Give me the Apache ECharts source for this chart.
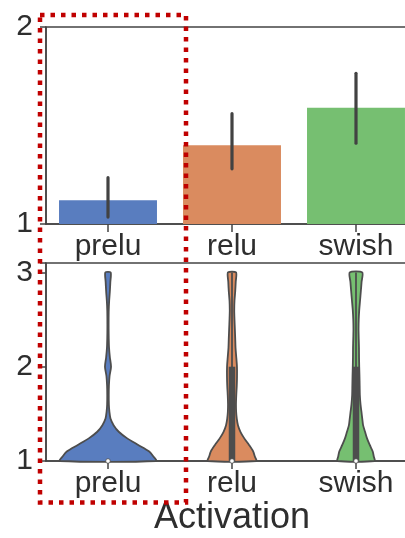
<!DOCTYPE html>
<html>
<head>
<meta charset="utf-8">
<script src="https://cdn.jsdelivr.net/npm/echarts@6/dist/echarts.min.js"></script>
<style>
html,body{margin:0;padding:0;background:#fff;overflow:hidden;width:405px;height:538px;}
#chart{width:425px;height:538px;}
</style>
</head>
<body>
<div id="chart"></div>
<script>
// ---- data ----
var categories = ['prelu', 'relu', 'swish'];
var barMeans = [1.12, 1.40, 1.59];
var errLow = [1.035, 1.28, 1.41];
var errHigh = [1.235, 1.56, 1.765];
var topTicks = [1, 2];
var bottomTicks = [1, 2, 3];
// violin profiles: y levels and full width (fraction of category band)
var violinLevels = [1.0, 1.05, 1.1, 1.17, 1.24, 1.31, 1.38, 1.45, 1.52, 1.6, 1.7, 1.8, 1.9, 2.0, 2.1, 2.2, 2.3, 2.4, 2.5, 2.6, 2.7, 2.8, 2.9, 3.0];
var preluWidth = [0.778, 0.730, 0.665, 0.488, 0.310, 0.173, 0.090, 0.040, 0.023, 0.014, 0.012, 0.015, 0.025, 0.049, 0.030, 0.017, 0.012, 0.010, 0.010, 0.012, 0.019, 0.030, 0.038, 0.043];
var reluWidth = [0.391, 0.367, 0.343, 0.275, 0.198, 0.136, 0.096, 0.077, 0.067, 0.064, 0.069, 0.077, 0.081, 0.080, 0.069, 0.057, 0.052, 0.046, 0.040, 0.036, 0.040, 0.052, 0.060, 0.065];
var swishWidth = [0.298, 0.286, 0.270, 0.222, 0.178, 0.146, 0.114, 0.101, 0.088, 0.073, 0.062, 0.059, 0.056, 0.052, 0.049, 0.048, 0.044, 0.041, 0.044, 0.052, 0.065, 0.078, 0.090, 0.101];
var boxQ1 = [1, 1, 1];
var boxQ3 = [1, 2, 2];
var whiskerLow = [1, 1, 1];
var whiskerHigh = [1, 3, 3];
var medians = [1, 1, 1];

var colors = ['#597dbf', '#da8b5f', '#76bf71'];
var violinWidths = [preluWidth, reluWidth, swishWidth];
var FONT = 'Liberation Sans, Arial, sans-serif';
var TXT = '#2e2e2e';
var AX = '#444444';

var chart = echarts.init(document.getElementById('chart'), null, {renderer: 'canvas'});

function xAxisCfg(gridIndex, withName) {
  var a = {
    type: 'category', gridIndex: gridIndex, data: categories,
    boundaryGap: true,
    axisLine: {show: true, lineStyle: {color: AX, width: 1.5}},
    axisTick: {show: true, alignWithLabel: true, length: 8, lineStyle: {color: AX, width: 1.5}},
    axisLabel: {fontFamily: FONT, fontSize: 30, color: TXT, margin: 8},
    splitLine: {show: false}
  };
  if (withName) {
    a.name = 'Activation';
    a.nameLocation = 'middle';
    a.nameGap = 35;
    a.nameTextStyle = {fontFamily: FONT, fontSize: 36, color: TXT};
  }
  return a;
}
function yAxisCfg(gridIndex, min, max, ticks) {
  return {
    type: 'value', gridIndex: gridIndex, min: min, max: max, interval: 1,
    axisLine: {show: true, lineStyle: {color: AX, width: 1.5}},
    axisTick: {show: true, length: 6, lineStyle: {color: AX, width: 1.5}},
    axisLabel: {fontFamily: FONT, fontSize: 30, color: TXT, margin: 13,
      formatter: function (v) { return ticks.indexOf(v) >= 0 ? String(v) : ''; }},
    splitLine: {show: false}
  };
}

var option = {
  animation: false,
  backgroundColor: '#ffffff',
  grid: [
    {left: 46, top: 27, width: 372, height: 197, show: true, borderColor: AX, borderWidth: 1.5, backgroundColor: 'transparent'},
    {left: 46, top: 263, width: 372, height: 198, show: true, borderColor: AX, borderWidth: 1.5, backgroundColor: 'transparent'}
  ],
  xAxis: [xAxisCfg(0, false), xAxisCfg(1, true)],
  yAxis: [yAxisCfg(0, 1, 2, topTicks), yAxisCfg(1, 1, 3.1, bottomTicks)],
  series: [
    {
      type: 'bar', xAxisIndex: 0, yAxisIndex: 0, barWidth: '79%', clip: true,
      data: barMeans.map(function (v, i) { return {value: v, itemStyle: {color: colors[i]}}; })
    },
    {
      type: 'custom', xAxisIndex: 0, yAxisIndex: 0, z: 5,
      data: categories.map(function (c, i) { return [i, errLow[i], errHigh[i]]; }),
      renderItem: function (params, api) {
        var lo = api.coord([api.value(0), api.value(1)]);
        var hi = api.coord([api.value(0), api.value(2)]);
        return {type: 'line', shape: {x1: lo[0], y1: lo[1], x2: hi[0], y2: hi[1]},
          style: {stroke: '#424242', lineWidth: 3.2, lineCap: 'round'}};
      }
    },
    {
      type: 'custom', xAxisIndex: 1, yAxisIndex: 1, z: 3,
      data: categories.map(function (c, i) { return [i, medians[i]]; }),
      renderItem: function (params, api) {
        var i = api.value(0);
        var band = api.size([1, 0])[0];
        var w = violinWidths[i];
        var right = [], left = [];
        for (var k = 0; k < violinLevels.length; k++) {
          var c = api.coord([i, violinLevels[k]]);
          var h = w[k] * band / 2;
          right.push([c[0] + h, c[1]]);
          left.unshift([c[0] - h, c[1]]);
        }
        var pts = right.concat(left);
        var children = [{
          type: 'polygon', shape: {points: pts, smooth: 0.25},
          style: {fill: colors[i], stroke: '#4d4d4d', lineWidth: 1.8, lineJoin: 'round'}
        }];
        var wl = api.coord([i, whiskerLow[i]]), wh = api.coord([i, whiskerHigh[i]]);
        if (wh[1] < wl[1]) {
          children.push({type: 'line', shape: {x1: wl[0], y1: wl[1], x2: wh[0], y2: wh[1]},
            style: {stroke: '#4d4d4d', lineWidth: 1.8}});
        }
        var q1 = api.coord([i, boxQ1[i]]), q3 = api.coord([i, boxQ3[i]]);
        if (q3[1] < q1[1]) {
          children.push({type: 'line', shape: {x1: q1[0], y1: q1[1], x2: q3[0], y2: q3[1]},
            style: {stroke: '#4d4d4d', lineWidth: 6.5}});
        }
        var m = api.coord([i, api.value(1)]);
        children.push({type: 'circle', shape: {cx: m[0], cy: m[1], r: 2.3},
          style: {fill: '#ffffff', stroke: '#4d4d4d', lineWidth: 0.8}, z2: 10});
        return {type: 'group', children: children};
      }
    }
  ],
  graphic: [{
    type: 'rect', z: 100, silent: true,
    shape: {x: 40, y: 15, width: 146, height: 487.5},
    style: {fill: 'none', stroke: '#c00000', lineWidth: 4.5, lineDash: [4.5, 6]}
  }]
};
chart.setOption(option);
</script>
</body>
</html>
